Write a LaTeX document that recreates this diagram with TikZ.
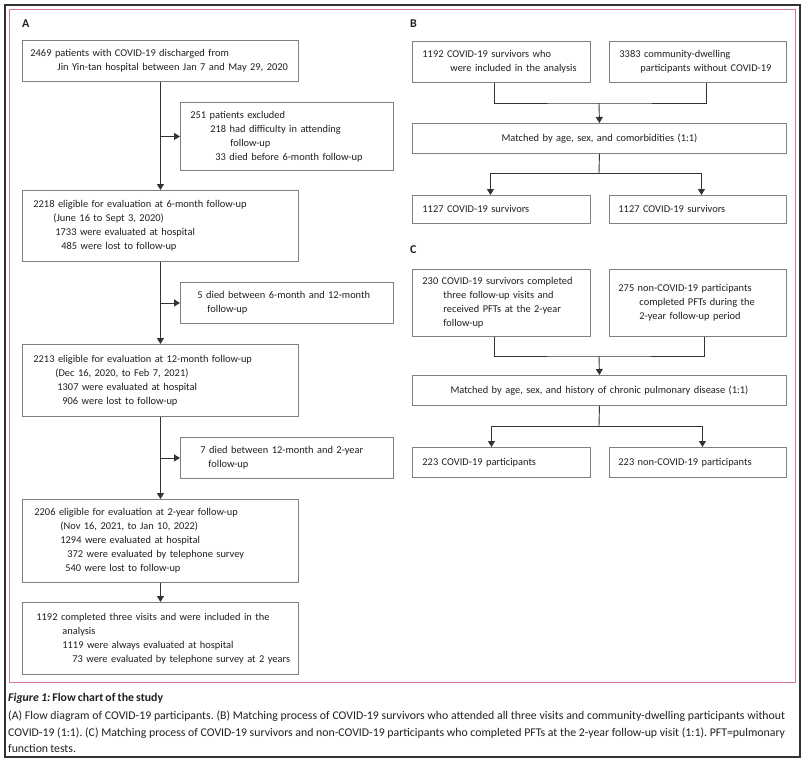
\documentclass[tikz,border=0pt]{standalone}
\usepackage{fontspec}
\setmainfont{Carlito}[WordSpace=0.8]
\usetikzlibrary{arrows.meta}
\definecolor{framec}{HTML}{333333}
\definecolor{pinkline}{HTML}{D27A8C}
\definecolor{boxgray}{HTML}{7F7F7F}
\definecolor{ink}{HTML}{231F20}
\newcommand\Lx[1]{\hspace*{#1pt}}
\newcommand\JustLine[1]{\makebox[777pt][s]{#1}}
\begin{document}
\frenchspacing
\begin{tikzpicture}[x=1pt,y=-1pt,
  box/.style 2 args={draw=boxgray, line width=0.9pt, anchor=north west,
    inner xsep=0pt, inner ysep=0pt, align=left, text=ink,
    font=\fontsize{10.4}{14}\selectfont,
    minimum width=#1, text width=#1, minimum height=#2},
  cbox/.style 2 args={draw=boxgray, line width=0.9pt, anchor=north west,
    inner xsep=0pt, inner ysep=0pt, align=center, text=ink,
    font=\fontsize{10.4}{14}\selectfont,
    minimum width=#1, text width=#1, minimum height=#2},
  conn/.style={draw=framec, line width=0.9pt},
  arr/.style={conn, -{Triangle[width=7pt,length=6pt]}},
  lab/.style={anchor=west, inner sep=0pt, font=\fontsize{12}{14}\selectfont\bfseries, text=ink},
  captxt/.style={anchor=base west, inner sep=0pt, font=\fontsize{11.8}{15}\selectfont, text=ink}
]
\useasboundingbox (0,0) rectangle (805,763);
\fill[white] (0,0) rectangle (805,763);
% frames
\draw[framec, line width=2.5pt] (5,5) rectangle (800,757);
\draw[pinkline, line width=1pt] (9,9) rectangle (795,682);

% ---------- Panel A ----------
\node[lab] (labA) at (22,24) {A};
\node[box={276}{41}] (a1) at (22,40) {\Lx{8}2469 patients with COVID-19 discharged from\\\Lx{35}Jin Yin-tan hospital between Jan 7 and May 29, 2020};
\node[box={213}{68}] (a2) at (180,102) {\Lx{10}251 patients excluded\\\Lx{30}218 had difficulty in attending\\\Lx{50}follow-up\\\Lx{35}33 died before 6-month follow-up};
\node[box={276}{71}] (a3) at (22,190) {\Lx{11}2218 eligible for evaluation at 6-month follow-up\\\Lx{31}(June 16 to Sept 3, 2020)\\\Lx{33}1733 were evaluated at hospital\\\Lx{39}485 were lost to follow-up};
\node[box={213}{41}] (a4) at (180,282) {\Lx{17}5 died between 6-month and 12-month\\\Lx{27}follow-up};
\node[box={276}{72}] (a5) at (22,344) {\Lx{11}2213 eligible for evaluation at 12-month follow-up\\\Lx{33}(Dec 16, 2020, to Feb 7, 2021)\\\Lx{35}1307 were evaluated at hospital\\\Lx{40}906 were lost to follow-up};
\node[box={213}{41}] (a6) at (180,437) {\Lx{20}7 died between 12-month and 2-year\\\Lx{28}follow-up};
\node[box={276}{83}] (a7) at (22,499) {\Lx{12}2206 eligible for evaluation at 2-year follow-up\\\Lx{38}(Nov 16, 2021, to Jan 10, 2022)\\\Lx{38}1294 were evaluated at hospital\\\Lx{45}372 were evaluated by telephone survey\\\Lx{43}540 were lost to follow-up};
\node[box={276}{72}] (a8) at (22,602) {\Lx{14}1192 completed three visits and were included in the\\\Lx{40}analysis\\\Lx{40}1119 were always evaluated at hospital\\\Lx{50}73 were evaluated by telephone survey at 2 years};

\draw[arr] (a1.south) -- (a3.north);
\draw[arr] (a1.south |- a2.west) -- (a2.west);
\draw[arr] (a3.south) -- (a5.north);
\draw[arr] (a3.south |- a4.west) -- (a4.west);
\draw[arr] (a5.south) -- (a7.north);
\draw[arr] (a5.south |- a6.west) -- (a6.west);
\draw[arr] (a7.south) -- (a8.north);

% ---------- Panel B ----------
\node[lab] (labB) at (410,24) {B};
\node[box={178}{41}] (b1) at (412,41) {\Lx{10}1192 COVID-19 survivors who\\\Lx{38}were included in the analysis};
\node[box={177}{41}] (b2) at (609,41) {\Lx{10}3383 community-dwelling\\\Lx{31}participants without COVID-19};
\node[cbox={374}{30}] (bm) at (412,123) {Matched by age, sex, and comorbidities (1:1)};
\node[box={178}{28}] (b3) at (412,195) {\Lx{10}1127 COVID-19 survivors};
\node[box={177}{28}] (b4) at (609,195) {\Lx{9}1127 COVID-19 survivors};
\coordinate (bj) at (599,103);
\coordinate (bk) at (599,173);
\draw[conn] ([xshift=-7pt]b1.south) |- (bj) -| ([xshift=8.5pt]b2.south);
\draw[arr] (bj) -- (bm.north);
\draw[conn] (bm.south) -- (bk);
\draw[arr] (bk) -| ([xshift=-11pt]b3.north);
\draw[arr] (bk) -| ([xshift=3.5pt]b4.north);

% ---------- Panel C ----------
\node[lab] (labC) at (410,250) {C};
\node[box={178}{67}] (c1) at (412,269) {\Lx{10}230 COVID-19 survivors completed\\\Lx{31}three follow-up visits and\\\Lx{31}received PFTs at the 2-year\\\Lx{31}follow-up};
\node[box={177}{67}] (c2) at (609,269) {\Lx{9}275 non-COVID-19 participants\\\Lx{30}completed PFTs during the\\\Lx{30}2-year follow-up period};
\node[cbox={374}{30}] (cm) at (412,375) {Matched by age, sex, and history of chronic pulmonary disease (1:1)};
\node[box={178}{30}] (c3) at (412,447) {\Lx{10}223 COVID-19 participants};
\node[box={177}{30}] (c4) at (609,447) {\Lx{9}223 non-COVID-19 participants};
\coordinate (cj) at (599,356);
\coordinate (ck) at (599,426);
\draw[conn] ([xshift=-7pt]c1.south) |- (cj) -| ([xshift=6.5pt]c2.south);
\draw[arr] (cj) -- (cm.north);
\draw[conn] (cm.south) -- (ck);
\draw[arr] (ck) -| ([xshift=-10pt]c3.north);
\draw[arr] (ck) -| ([xshift=4.5pt]c4.north);

% ---------- Caption ----------
\node[captxt] (cap0) at (8,701) {\textbf{\textit{Figure 1:}} \textbf{Flow chart of the study}};
\node[captxt] (cap1) at (8,719) {\JustLine{(A) Flow diagram of COVID-19 participants. (B) Matching process of COVID-19 survivors who attended all three visits and community-dwelling participants without}};
\node[captxt] (cap2) at (8,736) {\JustLine{COVID-19 (1:1). (C) Matching process of COVID-19 survivors and non-COVID-19 participants who completed PFTs at the 2-year follow-up visit (1:1). PFT=pulmonary}};
\node[captxt] (cap3) at (8,752) {function tests.};
\end{tikzpicture}
\end{document}
